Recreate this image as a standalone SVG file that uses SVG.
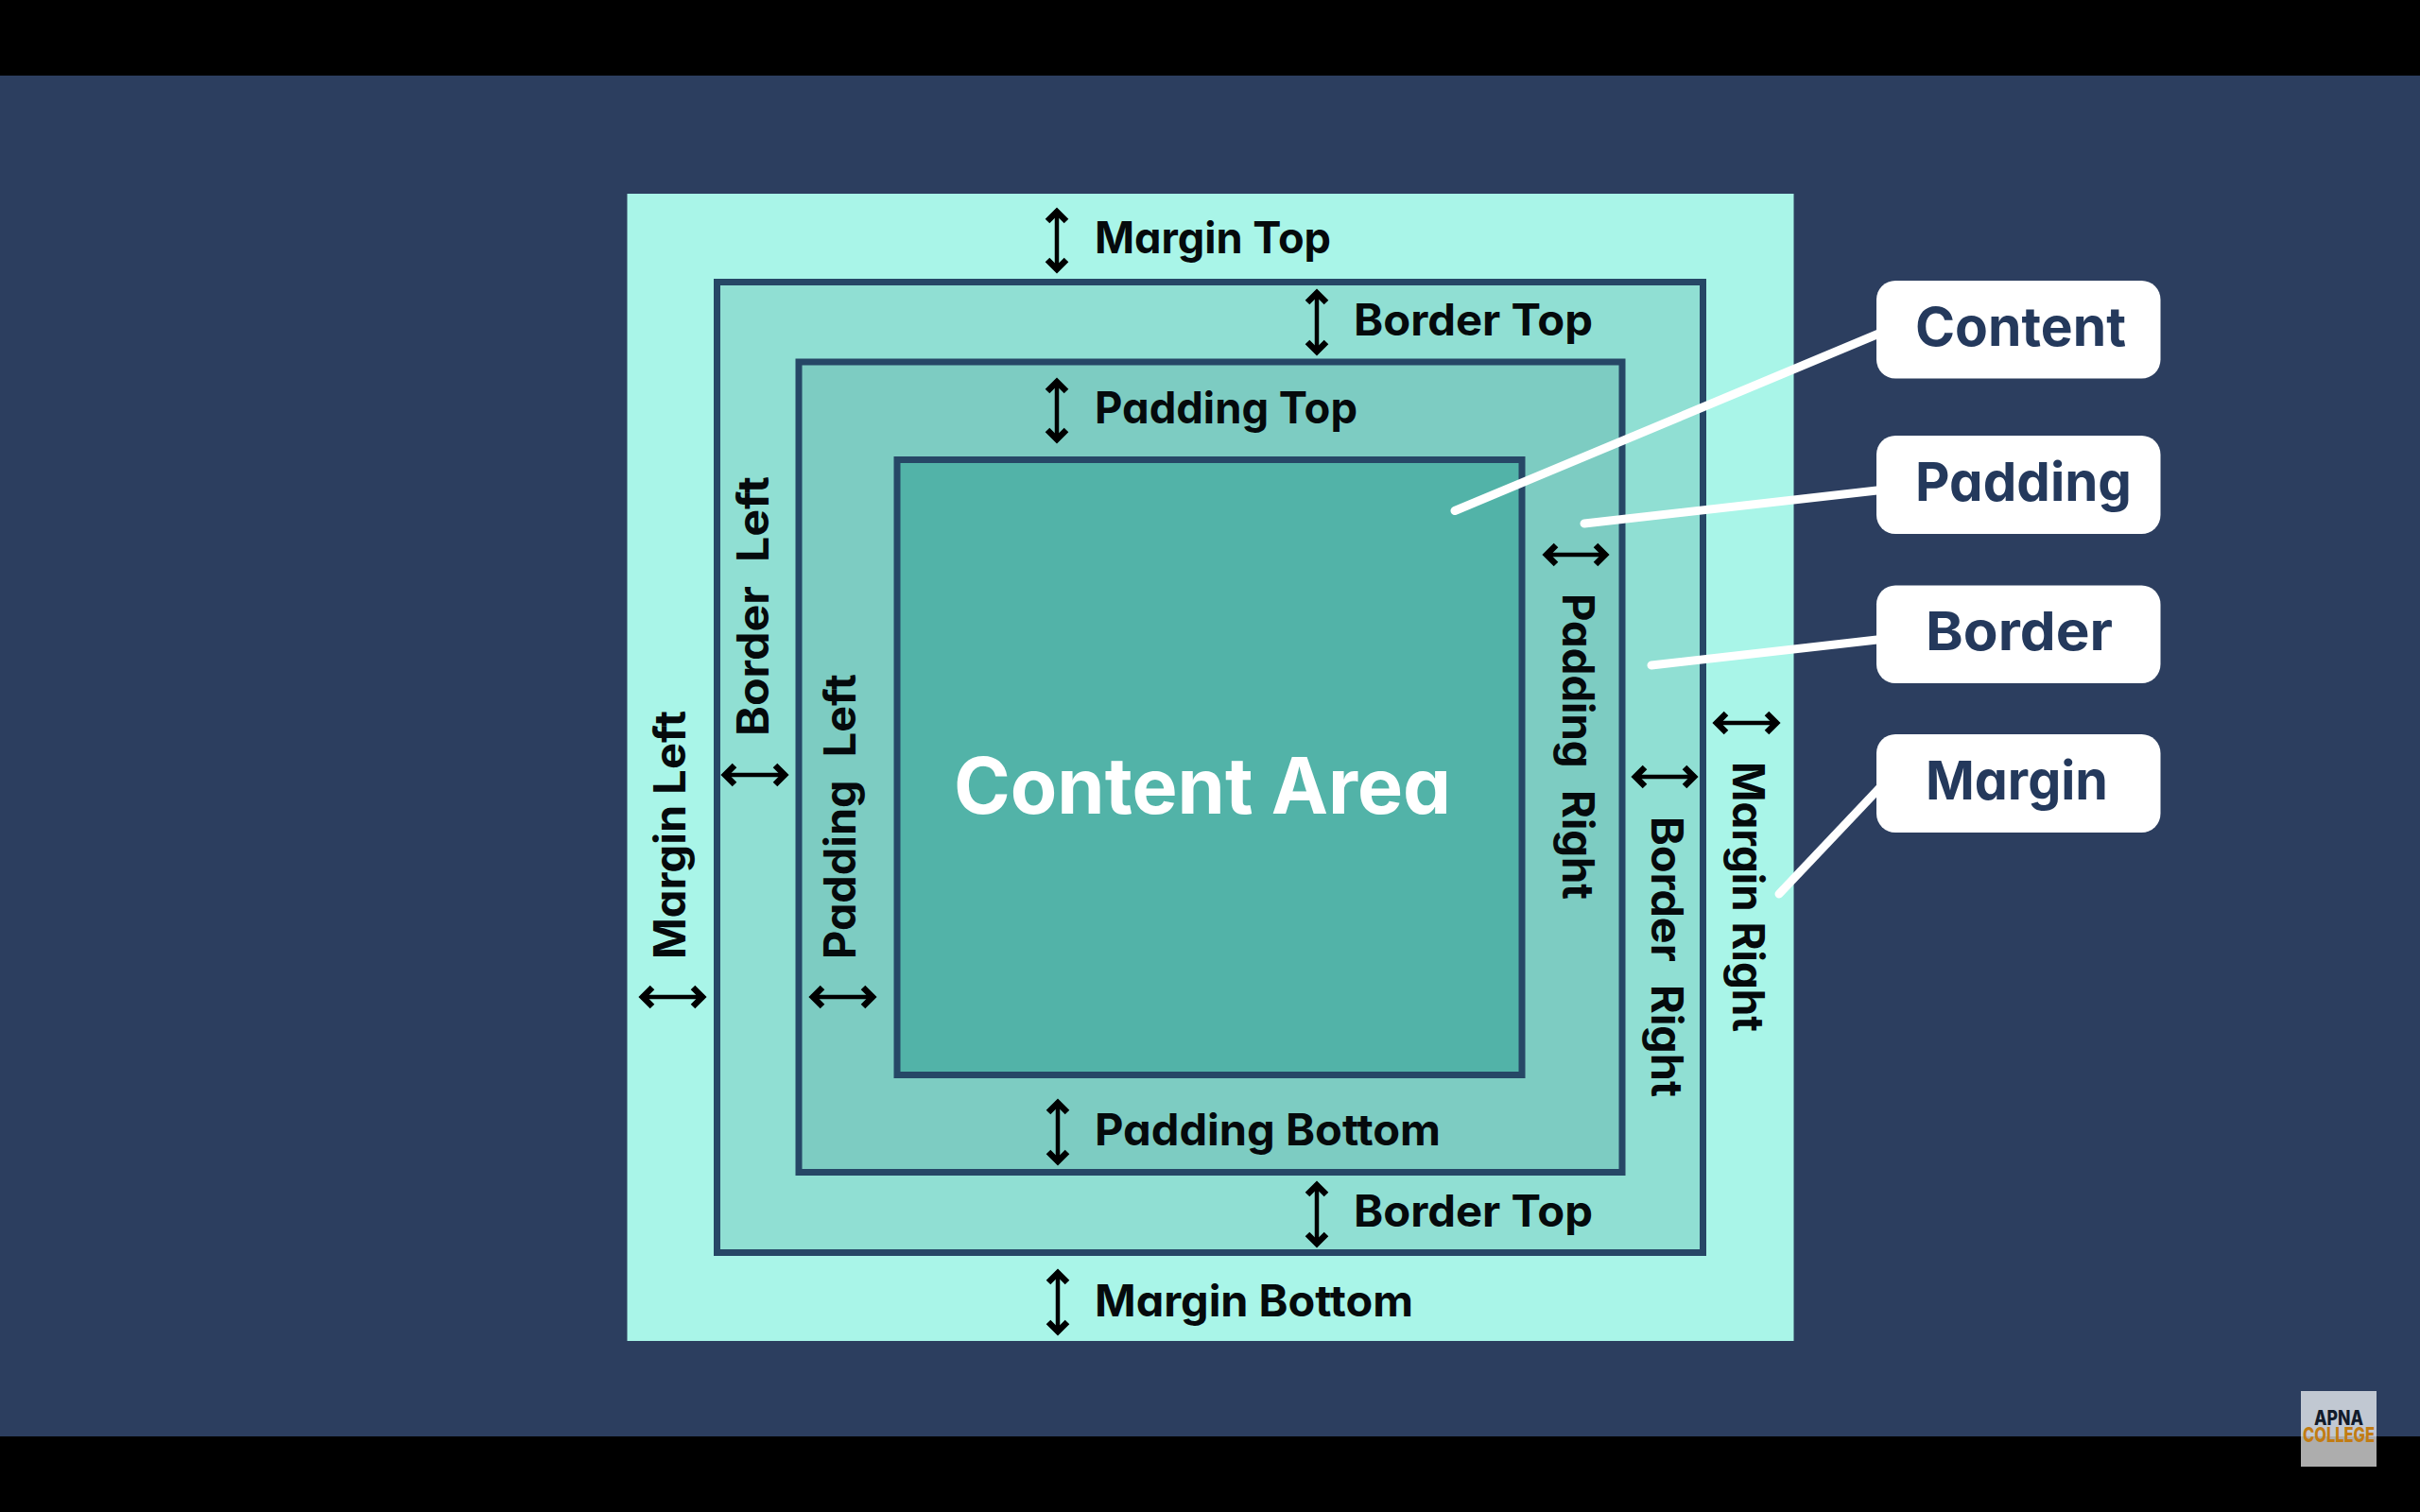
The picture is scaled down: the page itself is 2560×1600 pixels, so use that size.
<svg xmlns="http://www.w3.org/2000/svg" width="2560" height="1600" viewBox="0 0 2560 1600">
<defs>
<style>
text{font-family:"Inter","Lato","Liberation Sans",sans-serif;font-feature-settings:"cv11";}
.t{font-size:46px;font-weight:700;fill:#050a0c;}
.w{word-spacing:13px;}
.l{font-size:57px;font-weight:700;fill:#24395c;}
.box{stroke:#264766;stroke-width:7;}
.arrow{fill:none;stroke:#000;stroke-width:4.5;marker-start:url(#chev);marker-end:url(#chev);}
.leader{fill:none;stroke:#fff;stroke-width:9;stroke-linecap:round;}
.tag{fill:#fff;}
</style>
<marker id="chev" markerUnits="userSpaceOnUse" viewBox="0 0 22 26" refX="19" refY="13" markerWidth="22" markerHeight="26" orient="auto-start-reverse">
<path d="M7 3 L17 13 L7 23" fill="none" stroke="#000" stroke-width="6.5" stroke-linejoin="miter"/>
</marker>
</defs>
<rect width="2560" height="1600" fill="#000"/>
<rect y="80" width="2560" height="1440" fill="#2c3e5f"/>
<g id="margin-box"><rect x="663.5" y="205" width="1234" height="1214" fill="#a9f5e8"/></g>
<g id="border-box"><rect class="box" x="758.5" y="298.5" width="1043" height="1027" fill="#90dfd3"/></g>
<g id="padding-box"><rect class="box" x="845" y="383" width="871" height="857.5" fill="#7dccc2"/></g>
<g id="content-box"><rect class="box" x="949" y="486.5" width="661" height="651" fill="#52b3a8"/>
<text x="1009" y="861" textLength="526" lengthAdjust="spacingAndGlyphs" style="font-size:82px;font-weight:700;fill:#fff">Content Area</text></g>
<g id="connectors">
<path class="arrow" d="M1118 222V287"/>
<path class="arrow" d="M1393 308V374"/>
<path class="arrow" d="M1118 402V467"/>
<path class="arrow" d="M1119 1165V1231"/>
<path class="arrow" d="M1393 1252V1318"/>
<path class="arrow" d="M1119 1345V1411"/>
<path class="arrow" d="M678 1055H745"/>
<path class="arrow" d="M765 820H832"/>
<path class="arrow" d="M858 1055H925"/>
<path class="arrow" d="M1634 587H1700"/>
<path class="arrow" d="M1728 822H1794"/>
<path class="arrow" d="M1814 765H1881"/>
<path class="leader" d="M1990 352L1539 540.5"/>
<path class="leader" d="M1990 518.5L1676 554"/>
<path class="leader" d="M1990 676.5L1747 704"/>
<path class="leader" d="M1990 832L1882 946"/>
</g>
<g id="margin-top-label"><text class="t" x="1158" y="267.5" textLength="250" lengthAdjust="spacingAndGlyphs">Margin Top</text></g>
<g id="border-top-label"><text class="t" x="1432" y="355" textLength="253" lengthAdjust="spacingAndGlyphs">Border Top</text></g>
<g id="padding-top-label"><text class="t" x="1158" y="448" textLength="278" lengthAdjust="spacingAndGlyphs">Padding Top</text></g>
<g id="padding-bottom-label"><text class="t" x="1158" y="1212" textLength="366" lengthAdjust="spacingAndGlyphs">Padding Bottom</text></g>
<g id="border-bottom-label"><text class="t" x="1432" y="1298" textLength="253" lengthAdjust="spacingAndGlyphs">Border Top</text></g>
<g id="margin-bottom-label"><text class="t" x="1158" y="1393" textLength="337" lengthAdjust="spacingAndGlyphs">Margin Bottom</text></g>
<g id="margin-left-label"><text class="t" transform="translate(725 1015) rotate(-90)" textLength="263" lengthAdjust="spacingAndGlyphs">Margin Left</text></g>
<g id="border-left-label"><text class="t w" transform="translate(813 779) rotate(-90)" textLength="275" lengthAdjust="spacingAndGlyphs">Border Left</text></g>
<g id="padding-left-label"><text class="t w" transform="translate(905 1015) rotate(-90)" textLength="302" lengthAdjust="spacingAndGlyphs">Padding Left</text></g>
<g id="padding-right-label"><text class="t w" transform="translate(1653 628) rotate(90)" textLength="324" lengthAdjust="spacingAndGlyphs">Padding Right</text></g>
<g id="border-right-label"><text class="t w" transform="translate(1747 864) rotate(90)" textLength="297" lengthAdjust="spacingAndGlyphs">Border Right</text></g>
<g id="margin-right-label"><text class="t" transform="translate(1833 806) rotate(90)" textLength="286" lengthAdjust="spacingAndGlyphs">Margin Right</text></g>
<g id="tag-content"><rect class="tag" x="1985" y="297" width="300.5" height="103.5" rx="20"/><text class="l" x="2026" y="366" textLength="223" lengthAdjust="spacingAndGlyphs">Content</text></g>
<g id="tag-padding"><rect class="tag" x="1985" y="461" width="300.5" height="104" rx="20"/><text class="l" x="2026" y="530" textLength="229" lengthAdjust="spacingAndGlyphs">Padding</text></g>
<g id="tag-border"><rect class="tag" x="1985" y="619.5" width="300.5" height="103.5" rx="20"/><text class="l" x="2037" y="688" textLength="198" lengthAdjust="spacingAndGlyphs">Border</text></g>
<g id="tag-margin"><rect class="tag" x="1985" y="777" width="300.5" height="104" rx="20"/><text class="l" x="2037" y="846" textLength="193" lengthAdjust="spacingAndGlyphs">Margin</text></g>
<g id="logo">
<rect x="2434" y="1472" width="80" height="48" fill="#c1c8d2"/>
<rect x="2434" y="1520" width="80" height="32" fill="#adadad"/>
<text x="2448" y="1508" textLength="52" lengthAdjust="spacingAndGlyphs" style="font-size:21px;font-weight:800;fill:#121b2b">APNA</text>
<text x="2436" y="1526" textLength="76" lengthAdjust="spacingAndGlyphs" style="font-size:22px;font-weight:800;fill:#c27c12">COLLEGE</text>
</g>
</svg>
